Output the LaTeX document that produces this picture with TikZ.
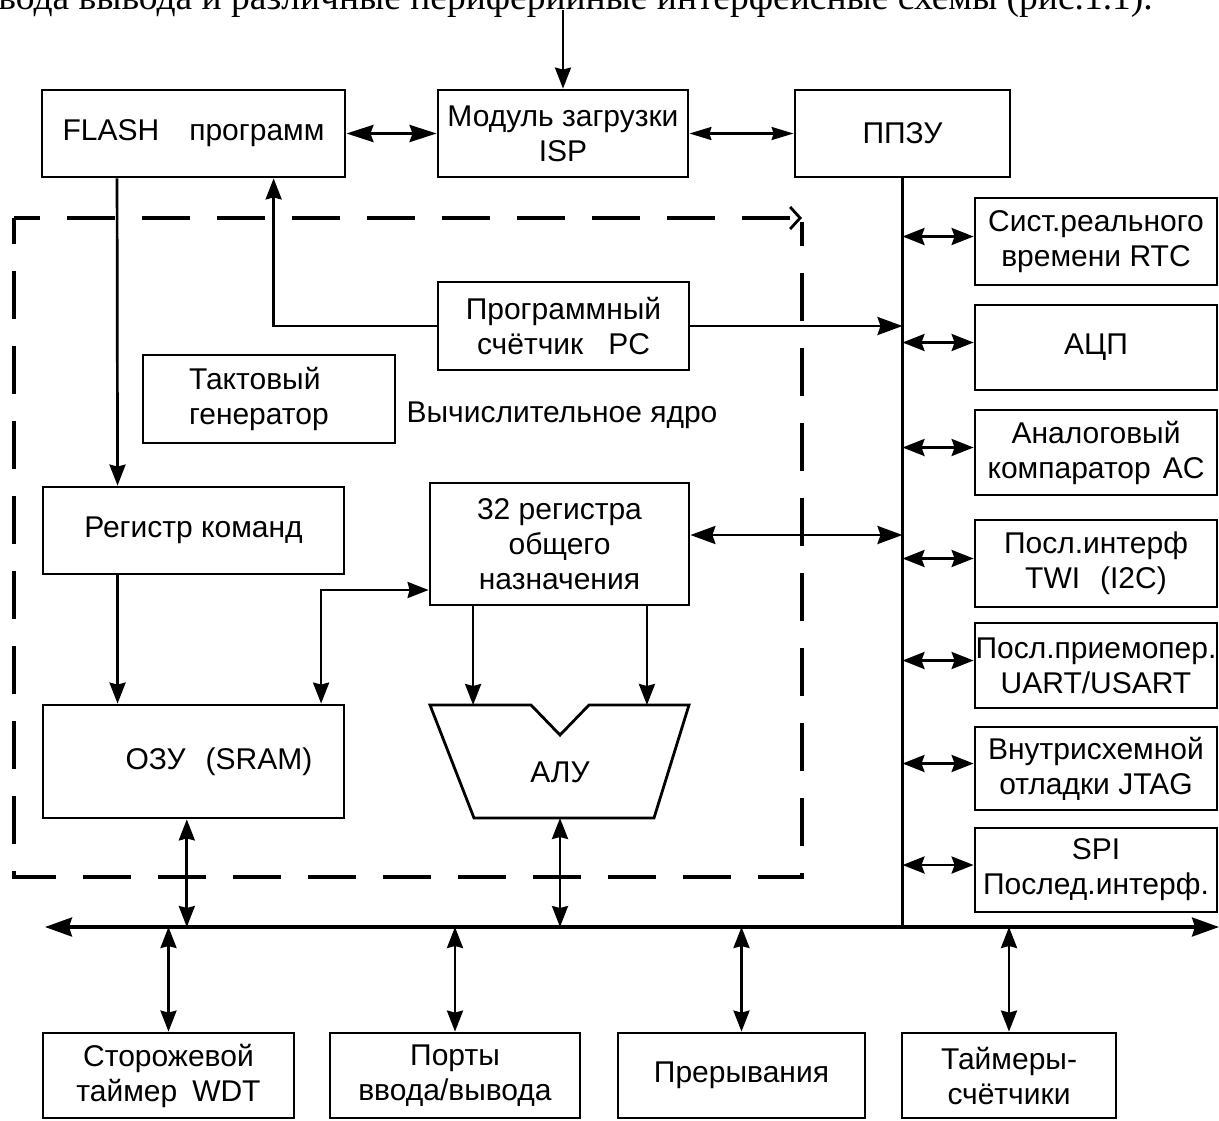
\documentclass[tikz,border=0pt]{standalone}
\usepackage{fontspec}
\setmainfont{Liberation Sans}
\newfontfamily\serifru{Liberation Serif}
\usetikzlibrary{arrows.meta,calc}
\begin{document}
\begin{tikzpicture}[x=1pt,y=-1pt,
  >={Stealth[length=21pt,width=16pt,inset=2pt]},
  txt/.style={font=\fontsize{30}{35}\selectfont,inner sep=0pt,align=center},
  blk/.style={txt,draw,line width=2.8pt},
  rblk/.style={blk,minimum width=242pt},
  bblk/.style={blk,minimum height=85pt},
  ln/.style={line width=2.7pt},
  bigtip/.style={-{Stealth[length=25pt,width=18pt,inset=3pt]}},
  sdbl/.style={ln,{Stealth[length=22pt,width=17pt,inset=3pt]}-{Stealth[length=22pt,width=17pt,inset=3pt]}},
  core/.style={line width=3.5pt,dash pattern=on 48pt off 27pt,dash phase=22pt}
]
\useasboundingbox (0,0) rectangle (1219,1120);
\fill[white] (0,0) rectangle (1219,1120);

% cut-off caption line
\node[anchor=base east,inner sep=0pt,font=\serifru\fontsize{37.5}{40}\selectfont] (caption) at (1153,9)
  {ввода вывода и различные периферийные интерфейсные схемы (рис.1.1).};

% top row
\node[blk,minimum width=303pt,minimum height=87pt] (flash) at (193.5,133.5) {FLASH\hspace{30pt}программ};
\node[blk,minimum width=250pt,minimum height=87pt] (isp) at (563,133.5) {Модуль загрузки\\ISP};
\node[blk,minimum width=215pt,minimum height=87pt] (ppzu) at (902.5,133.5) {ППЗУ};

% core
\node[blk,minimum width=251pt,minimum height=88pt] (pc) at (563.5,326) {Программный\\счётчик\hspace{25pt}PC};
\node[blk,minimum height=88pt,align=left,text width=160pt,inner xsep=46pt] (clk) at (269,399) {Тактовый\\генератор};
\node[txt] (corelbl) at (562,415) {Вычислительное ядро};
\node[blk,minimum width=301pt,minimum height=87pt] (ir) at (193.5,530.5) {Регистр команд};
\node[blk,minimum width=259pt,minimum height=122pt] (gpr) at (559.5,544) {32 регистра\\общего\\назначения};
\node[blk,minimum width=301pt,minimum height=113pt] (ram) at (193.5,761.5) {\hspace*{51pt}ОЗУ\hspace{20pt}(SRAM)};
\draw[line width=2.8pt,line join=miter] (430,705) coordinate (aluTL) -- (531,705) -- (560,735) -- (589,705) -- (689,705) -- (654,818) -- (474,818) -- cycle;
\node[txt] (alu) at (560,772) {АЛУ};
\coordinate (aluB) at (560,818);

% dashed core boundary
\draw[core,-{Straight Barb[length=10pt,width=22pt,line width=2.8pt]}] (14,218) -- (802,218);
\draw[core] (14,218) -- (14,877) -- (802,877) -- (802,222);

% right column
\node[rblk,minimum height=87pt] (r1) at (1096,241.5) {Сист.реального\\времени RTC};
\node[rblk,minimum height=85pt] (r2) at (1096,347.5) {АЦП};
\node[rblk,minimum height=85pt] (r3) at (1096,452.5) {Аналоговый\\компаратор\hspace{12pt}AC};
\node[rblk,minimum height=87pt] (r4) at (1096,563.5) {Посл.интерф\\TWI\hspace{20pt}(I2C)};
\node[rblk,minimum height=85pt] (r5) at (1096,665.5) {Посл.приемопер.\\UART/USART};
\node[rblk,minimum height=83pt] (r6) at (1096,768.5) {Внутрисхемной\\отладки JTAG};
\node[rblk,minimum height=84pt] (r7) at (1096,870) {SPI\\Послед.интерф.};

% bottom row
\node[bblk,minimum width=251pt] (b1) at (168.5,1075.5) {Сторожевой\\таймер\hspace{15pt}WDT};
\node[bblk,minimum width=250pt] (b2) at (455,1075.5) {Порты\\ввода/вывода};
\node[bblk,minimum width=247pt] (b3) at (741.5,1075.5) {Прерывания};
\node[bblk,minimum width=214pt] (b4) at (1009,1075.5) {Таймеры-\\счётчики};

% bus
\coordinate (busL) at (45,927);
\coordinate (busR) at (1219,927);
\draw[line width=3.2pt,{Stealth[length=27pt,width=19pt,inset=3pt]}-{Stealth[length=27pt,width=19pt,inset=3pt]}] (busL) -- (busR);
\draw[ln] (ppzu.south) -- (ppzu.south |- busL);

% top connections
\coordinate (in) at (563,10);
\draw[ln,->] (in) -- (isp.north);
\draw[line width=3.4pt,{Stealth[length=27pt,width=17pt,inset=3pt]}-{Stealth[length=27pt,width=17pt,inset=3pt]}] (flash.east) -- (isp.west);
\draw[line width=2.2pt,{Stealth[length=22pt,width=13pt,inset=2pt]}-{Stealth[length=22pt,width=13pt,inset=2pt]}] (isp.east) -- (ppzu.west);

% program flow
\draw[ln,->] ($(flash.south west)!.25!(flash.south east)$) -- ($(ir.north west)!.25!(ir.north east)$);
\draw[ln,->] (pc.west) -| ($(flash.south west)!.762!(flash.south east)$);
\draw[ln,bigtip] (pc.east) -- (ppzu.south |- pc.east);
\coordinate (gE) at ([yshift=9pt]gpr.east);
\draw[ln,{Stealth[length=25pt,width=18pt,inset=3pt]}-{Stealth[length=25pt,width=18pt,inset=3pt]}] (gE) -- (ppzu.south |- gE);
\draw[ln,->] ($(ir.south west)!.25!(ir.south east)$) -- ($(ram.north west)!.25!(ram.north east)$);
\coordinate (gW) at ([yshift=-46pt]gpr.west);
\draw[ln,<->] ($(ram.north west)!.92!(ram.north east)$) |- (gW);
\coordinate (g1) at ($(gpr.south west)!.17!(gpr.south east)$);
\coordinate (g2) at ($(gpr.south west)!.834!(gpr.south east)$);
\draw[ln,->] (g1) -- (g1 |- aluTL);
\draw[ln,->] (g2) -- (g2 |- aluTL);
\coordinate (rm) at ($(ram.south west)!.478!(ram.south east)$);
\draw[ln,<->] (rm) -- (rm |- busL);
\draw[ln,<->] (aluB) -- (aluB |- busL);

% peripheral links
\foreach \r in {r1,r2,r3,r4,r5,r6,r7}{
  \coordinate (\r a) at ([yshift=5pt]\r.west);
  \draw[sdbl] (ppzu.south |- \r a) -- (\r a);
}
\draw[ln,<->] (b1.north |- busL) -- (b1.north);
\draw[ln,<->] (b2.north |- busL) -- (b2.north);
\draw[ln,<->] (b3.north |- busL) -- (b3.north);
\draw[ln,<->] (b4.north |- busL) -- (b4.north);
\end{tikzpicture}
\end{document}
